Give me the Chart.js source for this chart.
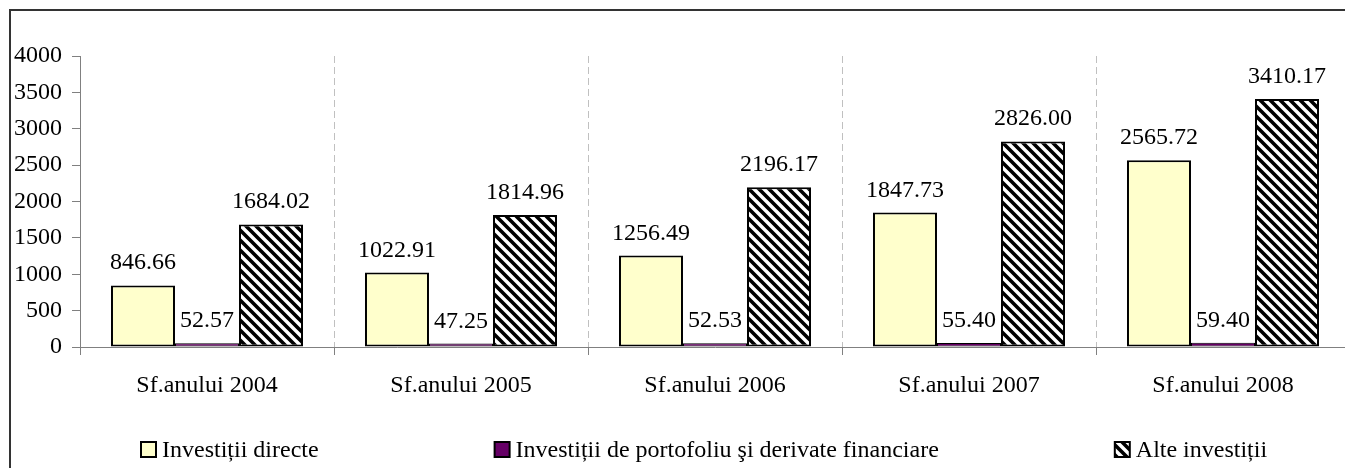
<!DOCTYPE html>
<html>
<head>
<meta charset="utf-8">
<script src="https://cdn.jsdelivr.net/npm/chart.js@4/dist/chart.umd.min.js"></script>
<style>
  html, body { margin: 0; padding: 0; background: #fff; overflow: hidden; }
  #frame { position: absolute; left: 9px; top: 9px; width: 1400px; height: 520px; border: 2px solid #333; }
  #wrap { position: absolute; left: 0; top: 0; width: 1360px; height: 468px; }
</style>
</head>
<body>
<div id="frame"></div>
<div id="wrap"><canvas id="chart" width="1360" height="468"></canvas></div>
<script>
const categories = ['Sf.anului 2004', 'Sf.anului 2005', 'Sf.anului 2006', 'Sf.anului 2007', 'Sf.anului 2008'];
const seriesNames = ['Investiții directe', 'Investiții de portofoliu şi derivate financiare', 'Alte investiții'];
const directe = [846.66, 1022.91, 1256.49, 1847.73, 2565.72];
const portofoliu = [52.57, 47.25, 52.53, 55.40, 59.40];
const alte = [1684.02, 1814.96, 2196.17, 2826.00, 3410.17];
const yTicks = [0, 500, 1000, 1500, 2000, 2500, 3000, 3500, 4000];

const FONT = "'Times New Roman', 'Liberation Serif', serif";

// diagonal hatch for the third series
function makeHatch() {
  const p = document.createElement('canvas');
  p.width = p.height = 10;
  const g = p.getContext('2d');
  g.fillStyle = '#fff';
  g.fillRect(0, 0, 10, 10);
  g.strokeStyle = '#000';
  g.lineWidth = 3.6;
  g.beginPath();
  g.moveTo(-5, -5); g.lineTo(15, 15);
  g.moveTo(-5, 5); g.lineTo(5, 15);
  g.moveTo(5, -5); g.lineTo(15, 5);
  g.stroke();
  return g.createPattern(p, 'repeat');
}
const hatch = makeHatch();

// value labels above each bar
const valueLabels = {
  id: 'valueLabels',
  afterDatasetsDraw(chart) {
    const ctx = chart.ctx;
    ctx.save();
    ctx.font = '24px ' + FONT;
    ctx.fillStyle = '#000';
    ctx.textAlign = 'center';
    ctx.textBaseline = 'alphabetic';
    chart.data.datasets.forEach((ds, i) => {
      chart.getDatasetMeta(i).data.forEach((bar, j) => {
        ctx.fillText(ds.data[j].toFixed(2), bar.x, bar.y - 16);
      });
    });
    ctx.restore();
  }
};

// legend row at the bottom, spaced like the original
const bottomLegend = {
  id: 'bottomLegend',
  afterDraw(chart) {
    const ctx = chart.ctx;
    ctx.save();
    ctx.font = '24px ' + FONT;
    ctx.textBaseline = 'alphabetic';
    ctx.textAlign = 'left';
    let x = 141;
    const gap = 176;
    chart.data.datasets.forEach(ds => {
      ctx.fillStyle = ds.backgroundColor;
      ctx.fillRect(x, 442, 15, 15);
      ctx.strokeStyle = '#000';
      ctx.lineWidth = 2;
      ctx.strokeRect(x, 442, 15, 15);
      ctx.fillStyle = '#000';
      ctx.fillText(ds.label, x + 21, 457);
      x += 21 + ctx.measureText(ds.label).width + gap;
    });
    ctx.restore();
  }
};

const barStyle = {
  borderColor: '#000',
  borderWidth: 2,
  borderSkipped: false,
  barPercentage: 1,
  categoryPercentage: 0.756
};

new Chart(document.getElementById('chart'), {
  type: 'bar',
  data: {
    labels: categories,
    datasets: [
      Object.assign({ label: seriesNames[0], data: directe, backgroundColor: '#FFFFCC' }, barStyle),
      Object.assign({ label: seriesNames[1], data: portofoliu, backgroundColor: '#660066' }, barStyle, { borderWidth: 1 }),
      Object.assign({ label: seriesNames[2], data: alte, backgroundColor: hatch }, barStyle)
    ]
  },
  options: {
    responsive: false,
    animation: false,
    layout: { padding: { top: 56, right: 10, bottom: 0, left: 0 } },
    plugins: {
      legend: { display: false },
      tooltip: { enabled: false }
    },
    scales: {
      x: {
        offset: true,
        grid: {
          offset: true,
          color: '#c0c0c0',
          tickBorderDash: [],
          tickColor: '#808080',
          tickLength: 8
        },
        border: { color: '#808080', width: 1, dash: [7, 4] },
        ticks: { font: { family: FONT, size: 24 }, color: '#000', padding: 16 },
        afterFit(scale) { scale.height = 121; }
      },
      y: {
        min: 0,
        max: 4000,
        afterBuildTicks(scale) { scale.ticks = yTicks.map(v => ({ value: v })); },
        grid: { drawOnChartArea: false, color: '#808080', tickLength: 8 },
        border: { color: '#808080', width: 1 },
        ticks: {
          font: { family: FONT, size: 24 },
          color: '#000',
          padding: 10,
          callback: v => String(v)
        },
        afterFit(scale) { scale.width = 80; }
      }
    }
  },
  plugins: [valueLabels, bottomLegend]
});
</script>
</body>
</html>
